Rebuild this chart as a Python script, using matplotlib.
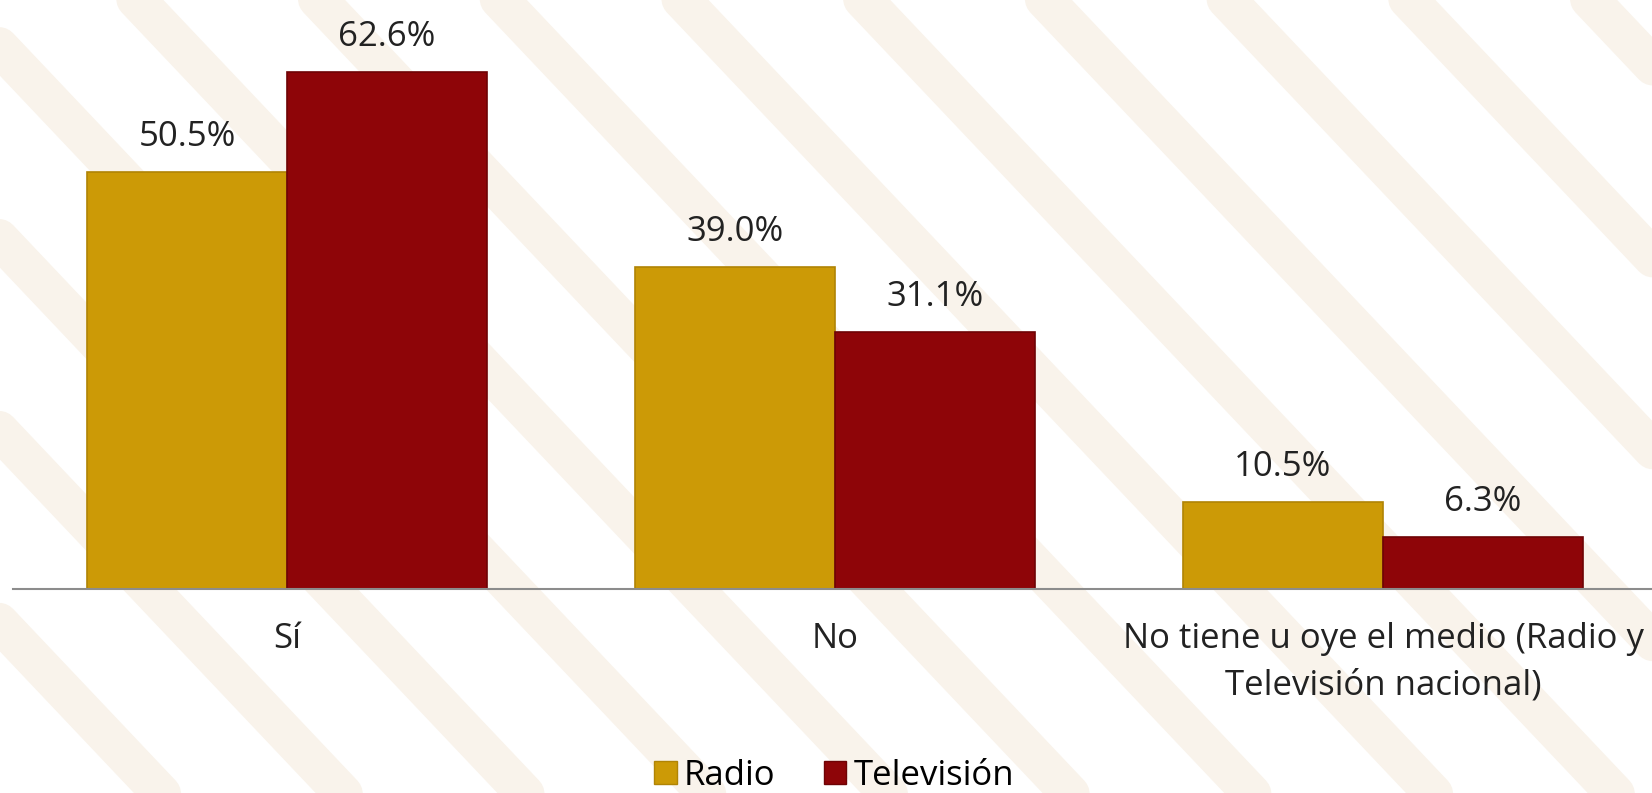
import numpy as np
import matplotlib.pyplot as plt
from matplotlib.patches import Patch

plt.rcParams['font.family'] = ['Open Sans', 'DejaVu Sans']

categorias = ["Sí", "No", "No tiene u oye el medio (Radio y\nTelevisión nacional)"]
radio = [50.5, 39.0, 10.5]
television = [62.6, 31.1, 6.3]
series = ["Radio", "Televisión"]

color_radio = "#CC9A06"
color_tv = "#8E0508"

fig = plt.figure(figsize=(16.52, 7.93), dpi=100)
fig.patch.set_facecolor("white")

# fondo decorativo (bandas beige tenues)
bg = fig.add_axes([0, 0, 1, 1], zorder=-10)
bg.set_xlim(0, 1)
bg.set_ylim(0, 1)
bg.axis("off")
for x0 in np.arange(-0.6, 1.2, 0.11):
    bg.plot([x0, x0 + 0.5], [1.05, -0.05], color="#f9f3eb", lw=28,
            solid_capstyle="round")

ax = fig.add_axes([13 / 1652, 1 - 589 / 793, 1644 / 1652, 589 / 793])
ax.patch.set_alpha(0)

x = np.arange(len(categorias))
w = 0.365
b1 = ax.bar(x - w / 2, radio, w, color=color_radio, edgecolor="#b08405", linewidth=1.2, label=series[0])
b2 = ax.bar(x + w / 2, television, w, color=color_tv, edgecolor="#6e0305", linewidth=1.2, label=series[1])

for bars, vals in [(b1, radio), (b2, television)]:
    for r, v in zip(bars, vals):
        ax.annotate(f"{v:.1f}%", (r.get_x() + r.get_width() / 2, r.get_height()),
                    xytext=(0, 18), textcoords="offset pixels",
                    ha="center", va="bottom", fontsize=25, color="#222222")

ax.set_xlim(-0.5, 2.5)
ax.set_ylim(0, 71.3)
ax.set_yticks([])
ax.set_xticks(x)
ax.set_xticklabels(categorias, fontsize=25, linespacing=1.45, color="#222222", va="top")
ax.tick_params(axis="x", length=0, pad=24)
for s in ["top", "right", "left"]:
    ax.spines[s].set_visible(False)
ax.spines["bottom"].set_color("#8c8c8c")
ax.spines["bottom"].set_linewidth(1.5)

handles = [Patch(facecolor=color_radio, edgecolor="#b08405"),
           Patch(facecolor=color_tv, edgecolor="#6e0305")]
fig.legend(handles, series, loc="center", bbox_to_anchor=(834 / 1652, 1 - 776 / 793),
           ncol=2, frameon=False, fontsize=25, handlelength=0.65, handleheight=0.65,
           handletextpad=0.2, columnspacing=1.4)

fig.savefig("out.png", dpi=100)
